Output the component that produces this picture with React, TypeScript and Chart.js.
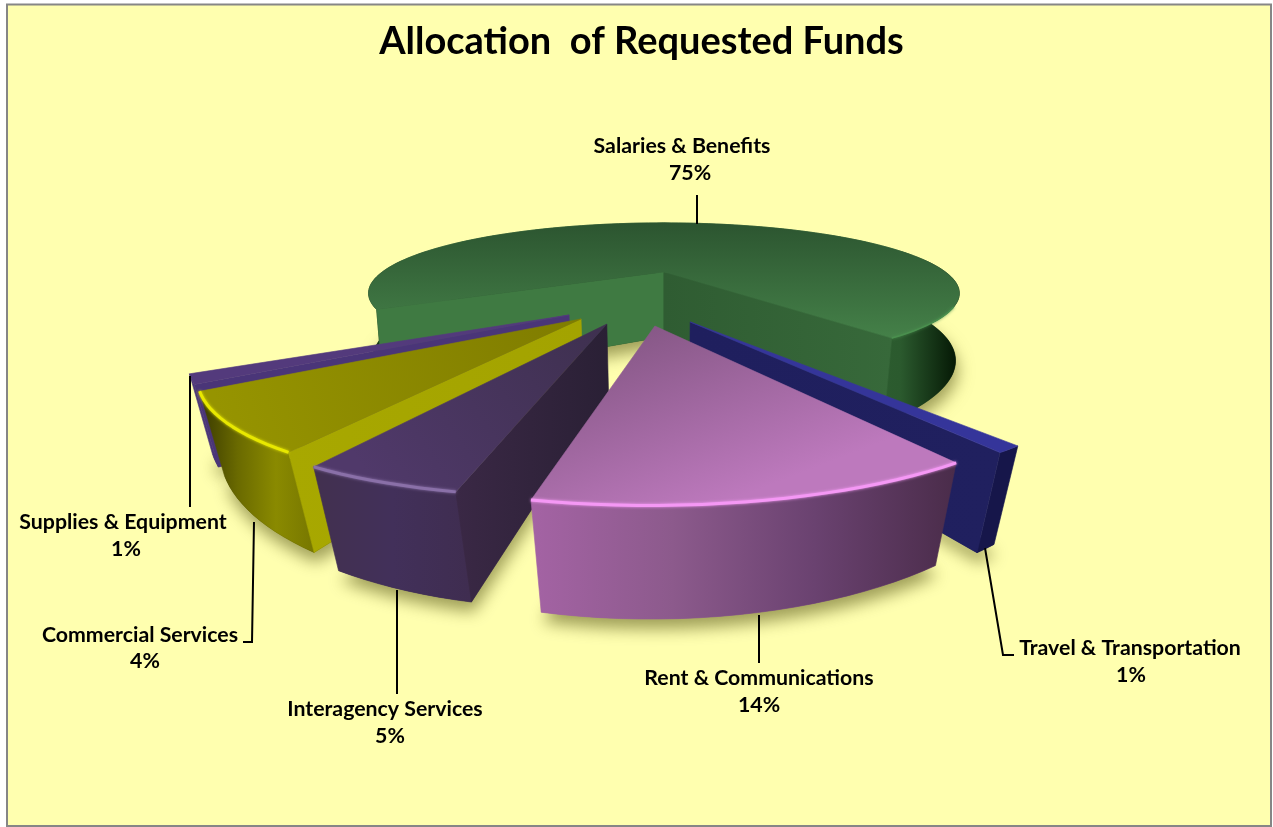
import React, { useEffect, useRef } from "react";
import { Chart, registerables } from "chart.js";

Chart.register(...registerables);

const categories = [
  "Salaries & Benefits",
  "Travel & Transportation",
  "Rent & Communications",
  "Interagency Services",
  "Commercial Services",
  "Supplies & Equipment",
];
const shares = [75, 1, 14, 5, 4, 1];
const baseColors = ["#3f7a42", "#35359a", "#b070b0", "#4a3860", "#a3a300", "#533a7c"];

const titleText = "Allocation  of Requested Funds";

// camera
const CX = 663, YH = 61, A = 696, F = 929, D = 3.3, H = 178;
// how far each exploded slice sits from the centre of the pie, in pie radii
const explodeX = [0.003, 0.078, -0.023, -0.16, -0.238, -0.277];
const explodeY = [0, 0.633, 0.674, 0.654, 0.602, 0.56];
const radiusStart = [1.0, 1.055, 1.06, 1.05, 1.037, 1.0];
const radiusEnd = [1.0, 1.055, 1.06, 1.05, 1.005, 1.0];
const startNudge = [1, 0, 0, 0, 0, 0];
const wallScale = [1.2, 1, 1, 1, 1, 1];
// perspective lens: chart angle -> seen angle (clockwise from the far side)
const lensIn = [145, 148.6, 199, 217, 231.4, 235, 505];
const lensOut = [144.5, 147.5, 191, 207.5, 234, 239, 502];

const topFrom = ["#2c5530", "#35359a", "#875887", "#3e304f", "#7f7c00", "#533a7c"];
const topTo = ["#47854b", "#35359a", "#bd79bd", "#50396a", "#969400", "#533a7c"];
const rimColor = ["#4a8f4e", "#3a3aa8", "#f598f5", "#8a70a8", "#e8e800", "#5f4590"];
const sideFrom = ["#2f5c32", "#1f1f5e", "#8a5a8a", "#2a2035", "#a3a300", "#4a3578"];
const sideTo = ["#37693a", "#20205f", "#8a5a8a", "#3a2845", "#a8a800", "#4a3578"];
const wallStops = [
  ["#143316", "#2e5f31", "#2e5f31", "#2e5f31", "#2e5f31", "#2e5f31", "#2e5f31", "#2e5f31", "#2e5f31", "#2b5a2e", "#031503"],
  ["#16164a", "#16164a"],
  ["#a463a4", "#8c5a8c", "#6a4270", "#4a2c4a"],
  ["#42304f", "#42305a", "#3f2d50"],
  ["#3a3a00", "#6a6a00", "#8a8a00", "#777700"],
  ["#4a3578", "#4a3578"],
];

type Label = { lines: string[]; xs: number[]; ys: number[]; leader: number[][] };
const pct = (i: number) => `${shares[i]}%`;
const labels: Label[] = [
  { lines: [categories[0], pct(0)], xs: [682, 690], ys: [146, 173], leader: [[697, 224], [697, 195]] },
  { lines: [categories[1], pct(1)], xs: [1130, 1131], ys: [648, 675], leader: [[985, 548], [1003, 655], [1014, 655]] },
  { lines: [categories[2], pct(2)], xs: [759, 759], ys: [678, 705], leader: [[759, 615], [759, 663]] },
  { lines: [categories[3], pct(3)], xs: [385, 390], ys: [709, 736], leader: [[397, 590], [397, 694]] },
  { lines: [categories[4], pct(4)], xs: [140, 145], ys: [635, 661], leader: [[254, 522], [252, 642], [243, 642]] },
  { lines: [categories[5], pct(5)], xs: [123, 126], ys: [522, 549], leader: [[190, 376], [190, 507]] },
];

type Pt = { x: number; y: number };

function lens(deg: number, isEnd: boolean) {
  const lo = lensIn[0], hi = lensIn[lensIn.length - 1], eps = 0.001;
  let a = deg;
  while (a < lo - eps) a += 360;
  while (a > hi + eps) a -= 360;
  if (!isEnd && a >= hi - eps) a -= 360;
  if (isEnd && a <= lo + eps) a += 360;
  for (let i = 0; i < lensIn.length - 1; i++) {
    if (a <= lensIn[i + 1] + eps) {
      const t = (a - lensIn[i]) / (lensIn[i + 1] - lensIn[i]);
      return lensOut[i] + t * (lensOut[i + 1] - lensOut[i]);
    }
  }
  return lensOut[lensOut.length - 1];
}

function project(X: number, Y: number, wall: number): Pt {
  const z = D - Y;
  const x = F * X / z;
  const y = YH + A / z;
  if (!wall) return { x: CX + x, y };
  const tilt = 1 - (D - z) * 0.045;
  return { x: CX + x * tilt, y: y + (H * wall) / z };
}

function fillPoly(ctx: CanvasRenderingContext2D, pts: Pt[], style: string | CanvasGradient) {
  ctx.beginPath();
  pts.forEach((p, i) => (i ? ctx.lineTo(p.x, p.y) : ctx.moveTo(p.x, p.y)));
  ctx.closePath();
  ctx.fillStyle = style;
  ctx.fill();
  ctx.strokeStyle = style;
  ctx.lineWidth = 0.6;
  ctx.lineJoin = "round";
  ctx.stroke();
}

function area(p: Pt[]) {
  let s = 0;
  for (let i = 0; i < p.length; i++) {
    const q = p[(i + 1) % p.length];
    s += p[i].x * q.y - q.x * p[i].y;
  }
  return s;
}

function drawSlice(ctx: CanvasRenderingContext2D, arc: any, i: number) {
  const start = (arc.startAngle * 180) / Math.PI + 90;
  const end = (arc.endAngle * 180) / Math.PI + 90;
  const from = lens(start, false) + startNudge[i];
  const to = lens(end, true);
  const span = to >= from ? to - from : to + 360 - from;
  const steps = Math.max(3, Math.ceil(span / 2));
  const dx = explodeX[i], dy = explodeY[i], wall = wallScale[i];
  const rimTop: Pt[] = [], rimBot: Pt[] = [], rimY: number[] = [];
  for (let s = 0; s <= steps; s++) {
    const th = ((from + (span * s) / steps) * Math.PI) / 180;
    const r = radiusStart[i] + ((radiusEnd[i] - radiusStart[i]) * s) / steps;
    const X = dx + r * Math.sin(th), Y = dy - r * Math.cos(th);
    rimTop.push(project(X, Y, 0));
    rimBot.push(project(X, Y, wall));
    rimY.push(-Math.cos(th));
  }
  const apexTop = project(dx, dy, 0), apexBot = project(dx, dy, wall);

  // soft shadow on the page
  ctx.save();
  ctx.shadowColor = "rgba(95,95,30,0.6)";
  ctx.shadowBlur = 16;
  ctx.shadowOffsetX = 2;
  ctx.shadowOffsetY = 10;
  ctx.beginPath();
  [apexBot, ...rimBot].forEach((p, k) => (k ? ctx.lineTo(p.x, p.y) : ctx.moveTo(p.x, p.y)));
  ctx.closePath();
  ctx.fillStyle = wallStops[i][0];
  ctx.fill();
  ctx.restore();

  // outer wall
  const xs = rimTop.concat(rimBot).map((p) => p.x);
  const minX = Math.min(...xs), maxX = Math.max(...xs);
  const wg = ctx.createLinearGradient(minX, 0, maxX, 0);
  wallStops[i].forEach((c, k) => wg.addColorStop(k / (wallStops[i].length - 1), c));
  fillPoly(ctx, [...rimTop, ...rimBot.slice().reverse()], wg);

  // cut faces turned towards the viewer
  const startFace = [apexTop, rimTop[0], rimBot[0], apexBot];
  const endFace = [apexTop, rimTop[steps], rimBot[steps], apexBot];
  const faces: Pt[][] = [];
  if (area(startFace) < 0) faces.push(startFace);
  if (area(endFace) > 0) faces.push(endFace);
  faces.forEach((f) => {
    const g = ctx.createLinearGradient(f[0].x, 0, f[1].x, 0);
    g.addColorStop(0, sideFrom[i]);
    g.addColorStop(1, sideTo[i]);
    fillPoly(ctx, f, i === 0 && f === startFace ? "#3f7a42" : g);
  });

  // top
  const mid = i === 0 ? { x: CX, y: 223 } : apexTop;
  const far = i === 0 ? { x: CX, y: 350 } : rimTop[Math.floor(steps * 0.6)];
  const tg = ctx.createLinearGradient(mid.x, mid.y, far.x, far.y);
  tg.addColorStop(0, topFrom[i]);
  tg.addColorStop(1, topTo[i]);
  fillPoly(ctx, [apexTop, ...rimTop], tg);

  // lit edge of the rim
  if (i === 1 || i === 5) return;
  ctx.save();
  ctx.strokeStyle = rimColor[i];
  ctx.shadowColor = rimColor[i];
  ctx.shadowBlur = 3;
  ctx.lineWidth = i === 0 ? 1.5 : 3;
  ctx.lineJoin = "round";
  ctx.beginPath();
  let pen = false;
  rimTop.forEach((p, k) => {
    if (rimY[k] > (i === 0 ? 0.45 : 0.2) && (i !== 0 || p.x > CX)) {
      if (pen) ctx.lineTo(p.x, p.y);
      else ctx.moveTo(p.x, p.y);
      pen = true;
    } else pen = false;
  });
  ctx.stroke();
  ctx.restore();
}

const pie3d = {
  id: "pie3d",
  beforeDraw(chart: any) {
    const ctx: CanvasRenderingContext2D = chart.ctx;
    ctx.save();
    ctx.fillStyle = "#FFFFFF";
    ctx.fillRect(0, 0, chart.width, chart.height);
    ctx.fillStyle = "#FFFFAF";
    ctx.strokeStyle = "#868686";
    ctx.lineWidth = 2;
    ctx.beginPath();
    ctx.rect(7, 4.5, 1264, 821.5);
    ctx.fill();
    ctx.stroke();
    ctx.restore();
  },
  beforeDatasetDraw() {
    return false;
  },
  afterDatasetsDraw(chart: any) {
    const ctx: CanvasRenderingContext2D = chart.ctx;
    const arcs = chart.getDatasetMeta(0).data;
    ctx.save();
    [0, 5, 4, 3, 1, 2].forEach((i) => drawSlice(ctx, arcs[i], i));
    ctx.restore();

    ctx.save();
    ctx.strokeStyle = "#000";
    ctx.lineWidth = 2;
    labels.forEach((l) => {
      ctx.beginPath();
      l.leader.forEach((p, k) => (k ? ctx.lineTo(p[0], p[1]) : ctx.moveTo(p[0], p[1])));
      ctx.stroke();
    });
    ctx.fillStyle = "#000";
    ctx.font = "bold 21.3px Lato";
    ctx.textAlign = "center";
    ctx.textBaseline = "middle";
    labels.forEach((l) => l.lines.forEach((t, k) => ctx.fillText(t, l.xs[k], l.ys[k])));
    ctx.restore();
  },
};

export default function App() {
  const ref = useRef<HTMLCanvasElement>(null);
  useEffect(() => {
    document.body.style.margin = "0";
    const chart = new Chart(ref.current!, {
      type: "pie",
      data: {
        labels: categories,
        datasets: [{ data: shares, backgroundColor: baseColors, borderWidth: 0 }],
      },
      options: {
        animation: false,
        responsive: false,
        rotation: 235,
        layout: { padding: { left: 10, top: 7 } },
        plugins: {
          legend: { display: false },
          tooltip: { enabled: false },
          title: {
            display: true,
            text: titleText,
            color: "#000",
            font: { family: "Lato", weight: "bold", size: 38 },
            padding: { top: 12, bottom: 10 },
          },
        },
      },
      plugins: [pie3d],
    } as any);
    return () => chart.destroy();
  }, []);
  return <canvas ref={ref} width={1273} height={827} style={{ display: "block" }} />;
}
